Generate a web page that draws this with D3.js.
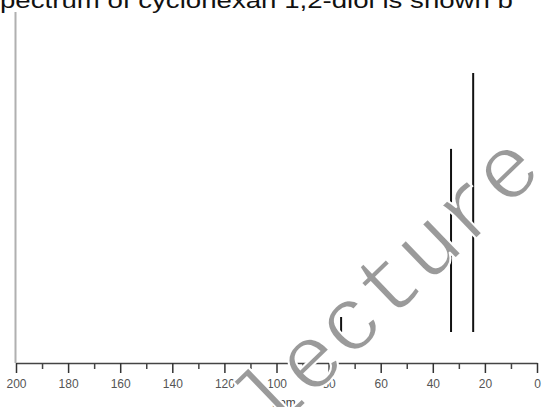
<!DOCTYPE html>
<html>
<head>
<meta charset="utf-8">
<script src="https://cdn.jsdelivr.net/npm/d3@7"></script>
<style>
  html, body { margin: 0; padding: 0; background: #fff; }
  svg { display: block; }
</style>
</head>
<body>
<div id="canvas"></div>
<script>
// peak positions (ppm) and relative heights
var shifts = [75.2, 33.0, 24.5];
var heights = [5.8, 70.7, 100];
var majorTicks = [200, 180, 160, 140, 120, 100, 80, 60, 40, 20, 0];
var minorTicks = [190, 170, 150, 130, 110, 90, 70, 50, 30, 10];
var titleText = "pectrum of cyclohexan 1,2-diol is shown b";
var axisText = "ppm";
var watermark = "lecture";

var width = 545, height = 407;

var svg = d3.select("#canvas")
    .append("svg")
    .attr("width", width)
    .attr("height", height);

var x = d3.scaleLinear().domain([200, 0]).range([16, 537]);
var y = d3.scaleLinear().domain([0, 100]).range([332, 73]);
var axisY = 363;

// cropped caption on top (stretched like the source image)
svg.append("text")
    .attr("x", 0)
    .attr("y", 8)
    .attr("font-family", "Liberation Sans, Arial, sans-serif")
    .attr("font-size", 22)
    .attr("textLength", 513)
    .attr("lengthAdjust", "spacingAndGlyphs")
    .attr("fill", "#111")
    .text(titleText);

// left frame line
svg.append("line")
    .attr("x1", 15.5).attr("x2", 15.5)
    .attr("y1", 12).attr("y2", axisY)
    .attr("stroke", "#b0b0b0")
    .attr("stroke-width", 2);

// minor ticks
var minorAxis = d3.axisBottom(x)
    .tickValues(minorTicks)
    .tickSize(6)
    .tickSizeOuter(0)
    .tickFormat("");
svg.append("g")
    .attr("transform", "translate(0," + axisY + ")")
    .call(minorAxis)
    .call(function (g) { g.select(".domain").remove(); })
    .selectAll("line").attr("stroke", "#444").attr("stroke-width", 1.5);

// major ticks + labels
var majorAxis = d3.axisBottom(x)
    .tickValues(majorTicks)
    .tickSize(10)
    .tickSizeOuter(0)
    .tickPadding(6)
    .tickFormat(d3.format("d"));
var gx = svg.append("g")
    .attr("transform", "translate(0," + axisY + ")")
    .call(majorAxis);
gx.select(".domain").attr("stroke", "#444").attr("stroke-width", 1.5);
gx.selectAll(".tick line").attr("stroke", "#333").attr("stroke-width", 1.5);
gx.selectAll(".tick text")
    .attr("font-family", "Liberation Sans, Arial, sans-serif")
    .attr("font-size", 12)
    .attr("fill", "#555");

svg.append("text")
    .attr("x", 284)
    .attr("y", 407)
    .attr("text-anchor", "middle")
    .attr("font-family", "Liberation Sans, Arial, sans-serif")
    .attr("font-size", 12)
    .attr("fill", "#444")
    .text(axisText);

// peaks
svg.selectAll("line.peak")
    .data(shifts)
    .enter().append("line")
    .attr("class", "peak")
    .attr("x1", function (d) { return x(d); })
    .attr("x2", function (d) { return x(d); })
    .attr("y1", y(0))
    .attr("y2", function (d, i) { return y(heights[i]); })
    .attr("stroke", "#111")
    .attr("stroke-width", 2);

// watermark across the plot, slightly thinned with a white outline
svg.append("text")
    .attr("transform", "translate(389,285) rotate(-44)")
    .attr("text-anchor", "middle")
    .attr("dy", "0.3em")
    .attr("font-family", "Liberation Mono, Courier New, monospace")
    .attr("font-size", 91)
    .attr("fill", "#9a9a9a")
    .attr("stroke", "#fff")
    .attr("stroke-width", 2)
    .text(watermark);
</script>
</body>
</html>
